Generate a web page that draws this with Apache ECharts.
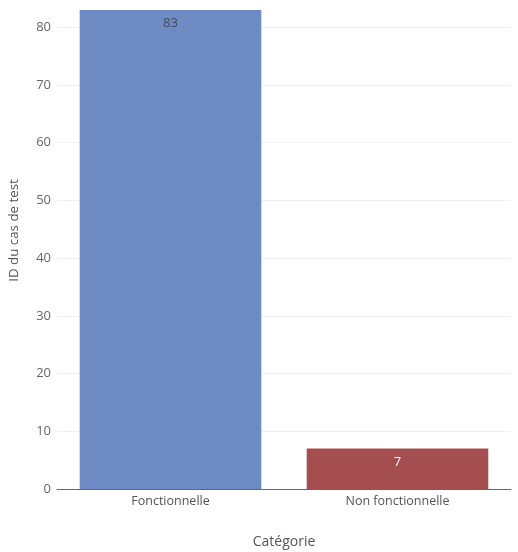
<!DOCTYPE html>
<html>
<head>
<meta charset="utf-8">
<script src="https://cdn.jsdelivr.net/npm/echarts@6/dist/echarts.min.js"></script>
<style>
    html, body { margin: 0; padding: 0; background: #fff; }
    #main { width: 518px; height: 552px; }
</style>
</head>
<body>
<div id="main"></div>
<script>
// données du graphique
var categories = ['Fonctionnelle', 'Non fonctionnelle'];
var values = [83, 7];
var barColors = ['#6F8BC3', '#A54E50'];
var labelColors = ['#444a5c', '#ffffff'];

var myChart = echarts.init(document.getElementById('main'));

var seriesData = [];
for (var i = 0; i < values.length; i++) {
    seriesData.push({
        value: values[i],
        itemStyle: { color: barColors[i] },
        label: { color: labelColors[i] }
    });
}

var option = {
    backgroundColor: '#fff',
    textStyle: { fontFamily: 'Open Sans' },
    grid: { left: 57, right: 7, top: 10, bottom: 63, outerBoundsMode: 'none', containLabel: false },
    xAxis: {
        type: 'category',
        data: categories,
        name: 'Catégorie',
        nameLocation: 'middle',
        nameGap: 46,
        nameTextStyle: { color: '#555', fontSize: 14 },
        axisLine: { lineStyle: { color: '#666' } },
        axisTick: { show: false },
        axisLabel: { color: '#555', fontSize: 12.5, margin: 6 }
    },
    yAxis: {
        type: 'value',
        min: 0,
        max: 83,
        interval: 10,
        name: 'ID du cas de test',
        nameLocation: 'middle',
        nameGap: 36,
        nameTextStyle: { color: '#555', fontSize: 13.3, padding: [0, 0, 0, 38] },
        axisLine: { show: false },
        axisTick: { show: false },
        axisLabel: { color: '#666', fontSize: 13, margin: 6, showMaxLabel: false },
        splitLine: { showMaxLine: false, lineStyle: { color: '#f0f0f0' } }
    },
    series: [{
        type: 'bar',
        data: seriesData,
        barCategoryGap: '20%',
        label: {
            show: true,
            position: 'insideTop',
            fontSize: 13,
            distance: 7
        }
    }]
};

myChart.setOption(option);
</script>
</body>
</html>
